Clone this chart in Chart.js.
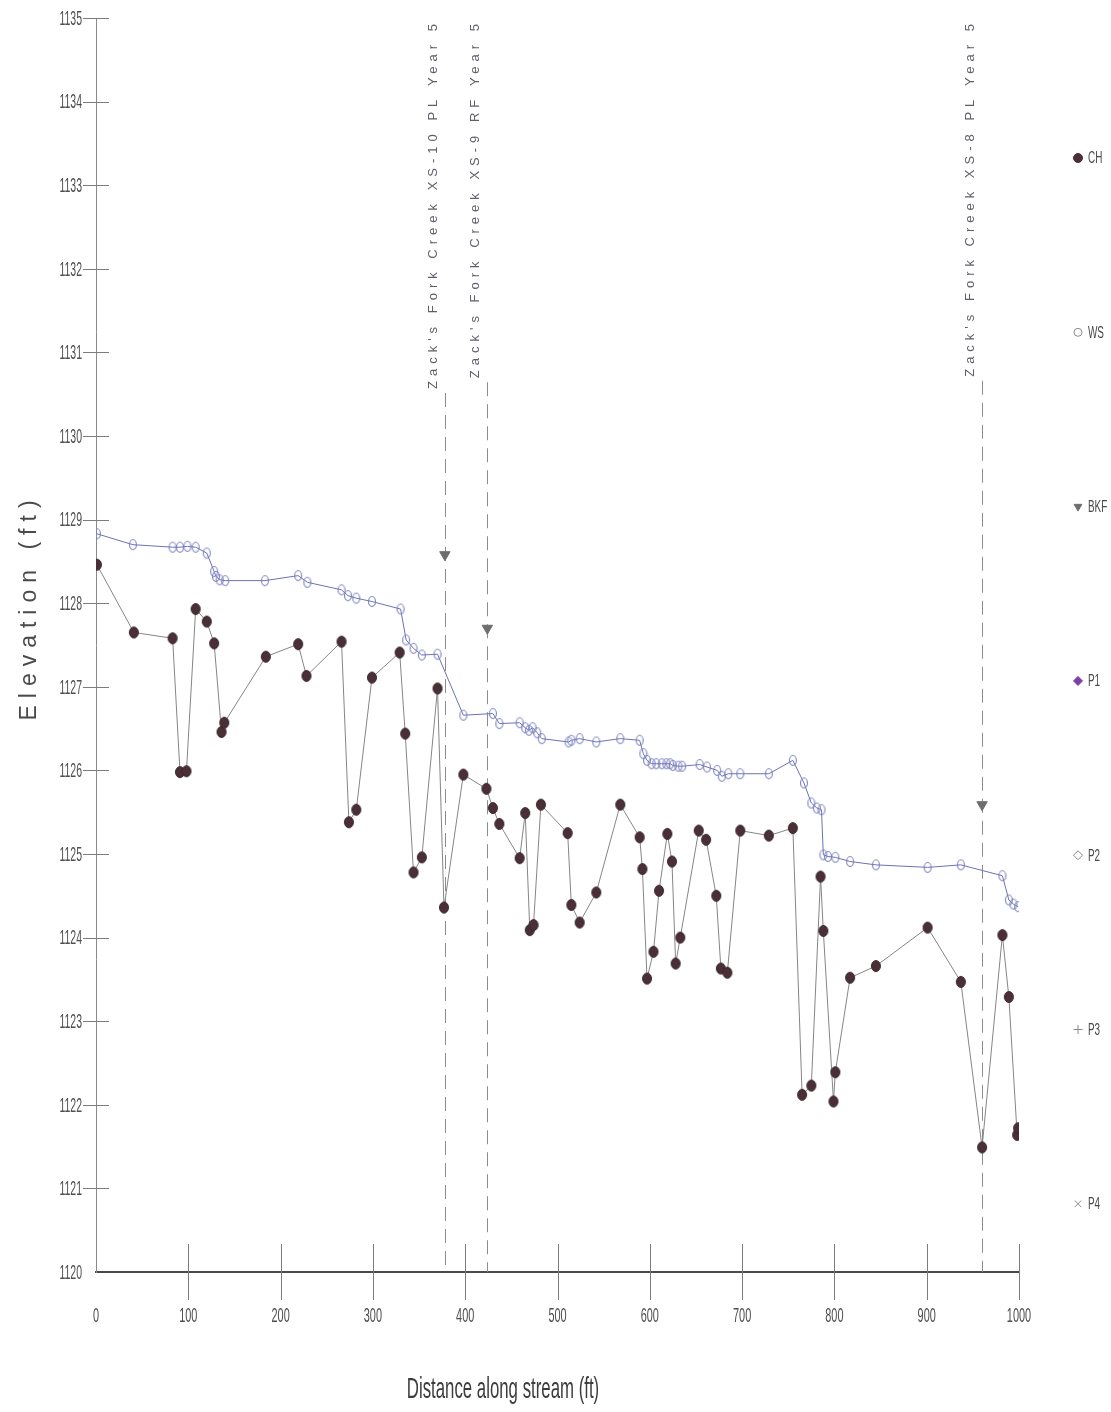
<!DOCTYPE html>
<html>
<head>
<meta charset="utf-8">
<title>Longitudinal profile</title>
<script src="https://cdn.jsdelivr.net/npm/chart.js@4/dist/chart.umd.min.js"></script>
<style>
  html, body { margin: 0; padding: 0; background: #ffffff; }
  #wrap { width: 1111px; height: 1412px; }
</style>
</head>
<body>
<div id="wrap"><canvas id="profile" width="1111" height="1412"></canvas></div>
<script>
// ---- Thalweg (channel bed) survey: station (ft) and elevation (ft)
const chX = [1, 41, 83, 91, 98, 108, 120, 128, 136, 139, 184, 219, 228, 266, 274, 282, 299, 329, 335, 344,
  353, 370, 377, 398, 423, 430, 437, 459, 465, 470, 474, 482, 511, 515, 524, 542, 568, 589, 592, 597,
  604, 610, 619, 624, 628, 633, 653, 661, 672, 677, 684, 698, 729, 755, 765, 775, 785, 788, 799, 801,
  817, 845, 901, 937, 960, 982, 989, 998, 999];
const chY = [1128.46, 1127.65, 1127.58, 1125.98, 1125.99, 1127.93, 1127.78, 1127.52, 1126.46, 1126.57,
  1127.36, 1127.51, 1127.13, 1127.54, 1125.38, 1125.53, 1127.11, 1127.41, 1126.44, 1124.78,
  1124.96, 1126.98, 1124.36, 1125.95, 1125.78, 1125.55, 1125.36, 1124.95, 1125.49, 1124.09,
  1124.15, 1125.59, 1125.25, 1124.39, 1124.18, 1124.54, 1125.59, 1125.20, 1124.82, 1123.51,
  1123.83, 1124.56, 1125.24, 1124.91, 1123.69, 1124.00, 1125.28, 1125.17, 1124.50, 1123.63,
  1123.58, 1125.28, 1125.22, 1125.31, 1122.12, 1122.23, 1124.73, 1124.08, 1122.04, 1122.39,
  1123.52, 1123.66, 1124.12, 1123.47, 1121.49, 1124.03, 1123.29, 1121.64, 1121.72];

// ---- Water surface survey
const wsX = [1, 40, 83, 91, 99, 108, 120, 128, 130, 134, 140, 183, 219, 229, 266, 273, 282, 299, 330, 336,
  344, 353, 370, 398, 430, 437, 459, 465, 469, 473, 478, 483, 512, 515, 524, 542, 568, 589, 593, 597,
  602, 607, 613, 618, 622, 625, 631, 635, 654, 662, 673, 678, 685, 698, 729, 755, 767, 775, 781, 786,
  788, 793, 801, 817, 845, 901, 937, 982, 989, 994, 999];
const wsY = [1128.83, 1128.70, 1128.67, 1128.67, 1128.68, 1128.67, 1128.60, 1128.38, 1128.32, 1128.28,
  1128.27, 1128.27, 1128.33, 1128.25, 1128.16, 1128.09, 1128.06, 1128.02, 1127.93, 1127.56,
  1127.46, 1127.38, 1127.39, 1126.66, 1126.68, 1126.56, 1126.57, 1126.51, 1126.48, 1126.51,
  1126.45, 1126.38, 1126.34, 1126.36, 1126.38, 1126.34, 1126.38, 1126.36, 1126.20, 1126.12,
  1126.08, 1126.08, 1126.08, 1126.08, 1126.08, 1126.06, 1126.05, 1126.05, 1126.07, 1126.04,
  1126.00, 1125.93, 1125.96, 1125.96, 1125.96, 1126.12, 1125.85, 1125.61, 1125.55, 1125.53,
  1124.99, 1124.97, 1124.96, 1124.91, 1124.87, 1124.84, 1124.87, 1124.74, 1124.45, 1124.40,
  1124.37];

// ---- Cross-section stations and bankfull elevations at those stations
const xsStations = [378, 424, 960];
const xsLabels = ["Zack's Fork Creek XS-10 PL Year 5",
                  "Zack's Fork Creek XS-9 RF Year 5",
                  "Zack's Fork Creek XS-8 PL Year 5"];
const bkfY = [1128.58, 1127.70, 1125.59];

// ---- Axis tick values
const xTicks = [0, 100, 200, 300, 400, 500, 600, 700, 800, 900, 1000];
const yTicks = [1120, 1121, 1122, 1123, 1124, 1125, 1126, 1127, 1128, 1129, 1130, 1131, 1132, 1133, 1134, 1135];

const seriesNames = ['CH', 'WS', 'BKF', 'P1', 'P2', 'P3', 'P4'];

const SANS = '"Liberation Sans", Arial, "DejaVu Sans", sans-serif';

// small elliptical marker sprites (slightly taller than wide)
function ellipseSprite(w, h, fill, stroke, lw) {
  const c = document.createElement('canvas');
  c.width = w + 2; c.height = h + 2;
  const g = c.getContext('2d');
  g.beginPath();
  g.ellipse(c.width / 2, c.height / 2, w / 2 - lw / 2, h / 2 - lw / 2, 0, 0, Math.PI * 2);
  if (fill) { g.fillStyle = fill; g.fill(); }
  if (stroke) { g.strokeStyle = stroke; g.lineWidth = lw; g.stroke(); }
  return c;
}
const chSprite = ellipseSprite(10, 12, '#4a2f36', '#3b2a2f', 1);
const wsSprite = ellipseSprite(8, 11, null, '#7b81bd', 1.1);

const pts = (xs, ys) => xs.map((x, i) => ({ x: x, y: ys[i] }));

const datasets = [
  { label: seriesNames[0], data: pts(chX, chY), showLine: true, borderColor: '#858585', borderWidth: 1,
    pointStyle: chSprite, backgroundColor: '#4a2f36', pointRadius: 5, order: 1,
    legendMark: { style: 'circle', radius: 4.5, fill: '#4a2f36', stroke: '#4a2f36' } },
  { label: seriesNames[1], data: pts(wsX, wsY), showLine: true, borderColor: '#6b71b6', borderWidth: 1,
    pointStyle: wsSprite, backgroundColor: 'rgba(0,0,0,0)', pointRadius: 5, order: 2,
    legendMark: { style: 'circle', radius: 4, fill: '#ffffff', stroke: '#8a8a8a' } },
  { label: seriesNames[2], data: pts(xsStations, bkfY), showLine: false, pointStyle: 'triangle',
    rotation: 180, pointRadius: 6, backgroundColor: '#6e6e6e', borderColor: '#6e6e6e', borderWidth: 1, order: 0,
    legendMark: { style: 'triangle', rotation: 180, radius: 4.5, fill: '#6e6e6e', stroke: '#6e6e6e' } },
  { label: seriesNames[3], data: [], showLine: false, pointStyle: 'rectRot', backgroundColor: '#7a3fa8', borderColor: '#7a3fa8',
    legendMark: { style: 'rectRot', radius: 4.5, fill: '#7a3fa8', stroke: '#7a3fa8' } },
  { label: seriesNames[4], data: [], showLine: false, pointStyle: 'rectRot', backgroundColor: '#ffffff', borderColor: '#8a8a8a',
    legendMark: { style: 'rectRot', radius: 4.5, fill: '#ffffff', stroke: '#8a8a8a' } },
  { label: seriesNames[5], data: [], showLine: false, pointStyle: 'cross', borderColor: '#8a8a8a',
    legendMark: { style: 'cross', radius: 4.5, fill: '#8a8a8a', stroke: '#8a8a8a' } },
  { label: seriesNames[6], data: [], showLine: false, pointStyle: 'crossRot', borderColor: '#8a8a8a',
    legendMark: { style: 'crossRot', radius: 4.5, fill: '#8a8a8a', stroke: '#8a8a8a' } }
];

function seg(ctx, x1, y1, x2, y2) {
  ctx.beginPath(); ctx.moveTo(x1, y1); ctx.lineTo(x2, y2); ctx.stroke();
}

// condensed text: drawn with a horizontal squeeze
function narrowText(ctx, text, x, y, sx, align) {
  ctx.save();
  ctx.translate(x, y);
  ctx.scale(sx, 1);
  ctx.textAlign = align;
  ctx.fillText(text, 0, 0);
  ctx.restore();
}

// axis ticks crossing the axes, tick labels, cross-section markers, titles and legend
const profileDecor = {
  id: 'profileDecor',
  beforeDatasetsDraw(chart) {
    const { ctx, chartArea: a } = chart;
    const xs = chart.scales.x, ys = chart.scales.y;
    ctx.save();
    ctx.strokeStyle = '#7c7c7c';
    ctx.lineWidth = 1;
    ys.ticks.forEach(t => {
      if (t.value === ys.min) return;
      const py = Math.round(ys.getPixelForValue(t.value)) + 0.5;
      seg(ctx, a.left - 13, py, a.left + 13, py);
    });
    xs.ticks.forEach(t => {
      if (t.value === xs.min) return;
      const px = Math.round(xs.getPixelForValue(t.value)) + 0.5;
      seg(ctx, px, a.bottom - 28, px, a.bottom + 28);
    });

    // tick labels (condensed)
    ctx.fillStyle = '#4f4f4f';
    ctx.font = '21px ' + SANS;
    ctx.textBaseline = 'middle';
    ys.ticks.forEach(t => {
      narrowText(ctx, String(t.value), a.left - 14, ys.getPixelForValue(t.value) + 1, 0.5, 'right');
    });
    xs.ticks.forEach(t => {
      narrowText(ctx, String(t.value), xs.getPixelForValue(t.value), a.bottom + 44, 0.52, 'center');
    });

    // cross-section labels and dashed station lines
    ctx.font = '13px ' + SANS;
    ctx.letterSpacing = '5px';
    xsStations.forEach((s, i) => {
      const px = Math.round(xs.getPixelForValue(s)) + 0.5;
      const w = ctx.measureText(xsLabels[i]).width;
      ctx.save();
      ctx.translate(px - 12, 19);
      ctx.rotate(-Math.PI / 2);
      ctx.textAlign = 'right';
      ctx.textBaseline = 'middle';
      ctx.fillStyle = '#5f5f6a';
      ctx.fillText(xsLabels[i], 0, 0);
      ctx.restore();
      ctx.strokeStyle = '#8c8c8c';
      ctx.lineWidth = 1;
      ctx.setLineDash([14, 8]);
      seg(ctx, px, 19 + w + 4, px, a.bottom);
      ctx.setLineDash([]);
    });
    ctx.letterSpacing = '0px';
    ctx.restore();
  },
  afterDraw(chart) {
    const { ctx } = chart;
    ctx.save();
    // y axis title
    ctx.fillStyle = '#4a4a4a';
    ctx.font = '23px ' + SANS;
    ctx.letterSpacing = '7px';
    ctx.save();
    ctx.translate(30, 607);
    ctx.rotate(-Math.PI / 2);
    ctx.textAlign = 'center';
    ctx.textBaseline = 'middle';
    ctx.fillText('Elevation (ft)', 0, 0);
    ctx.restore();
    ctx.letterSpacing = '0px';

    // x axis title
    ctx.font = '30px ' + SANS;
    ctx.fillStyle = '#3c3c3c';
    ctx.textBaseline = 'middle';
    narrowText(ctx, 'Distance along stream (ft)', 503, 1390, 0.56, 'center');

    // legend column
    const lx = 1078, top = 158, step = 174.3;
    ctx.font = '16px ' + SANS;
    chart.data.datasets.forEach((ds, i) => {
      const y = top + i * step;
      const m = ds.legendMark;
      ctx.fillStyle = m.fill;
      ctx.strokeStyle = m.stroke;
      ctx.lineWidth = 1;
      Chart.helpers.drawPoint(ctx, { pointStyle: m.style, radius: m.radius, rotation: m.rotation || 0, borderWidth: 1 }, lx, y);
      ctx.fillStyle = '#4a4a4a';
      narrowText(ctx, ds.label, lx + 10, y + 1, 0.62, 'left');
    });
    ctx.restore();
  }
};

new Chart(document.getElementById('profile'), {
  type: 'scatter',
  data: { datasets: datasets },
  options: {
    responsive: false,
    animation: false,
    events: [],
    layout: { padding: { top: 18, right: 92, left: 0, bottom: 0 } },
    plugins: { legend: { display: false }, tooltip: { enabled: false } },
    scales: {
      x: {
        type: 'linear', min: xTicks[0], max: xTicks[xTicks.length - 1],
        ticks: { display: false, stepSize: xTicks[1] - xTicks[0], autoSkip: false },
        grid: { display: true, drawOnChartArea: false, drawTicks: false },
        border: { display: true, color: '#4a4a4a', width: 2 },
        afterFit(s) { s.height = 140; }
      },
      y: {
        type: 'linear', min: yTicks[0], max: yTicks[yTicks.length - 1],
        ticks: { display: false, stepSize: yTicks[1] - yTicks[0], autoSkip: false },
        grid: { display: true, drawOnChartArea: false, drawTicks: false },
        border: { display: true, color: '#8a8a8a', width: 1 },
        afterFit(s) { s.width = 96; }
      }
    }
  },
  plugins: [profileDecor]
});
</script>
</body>
</html>
